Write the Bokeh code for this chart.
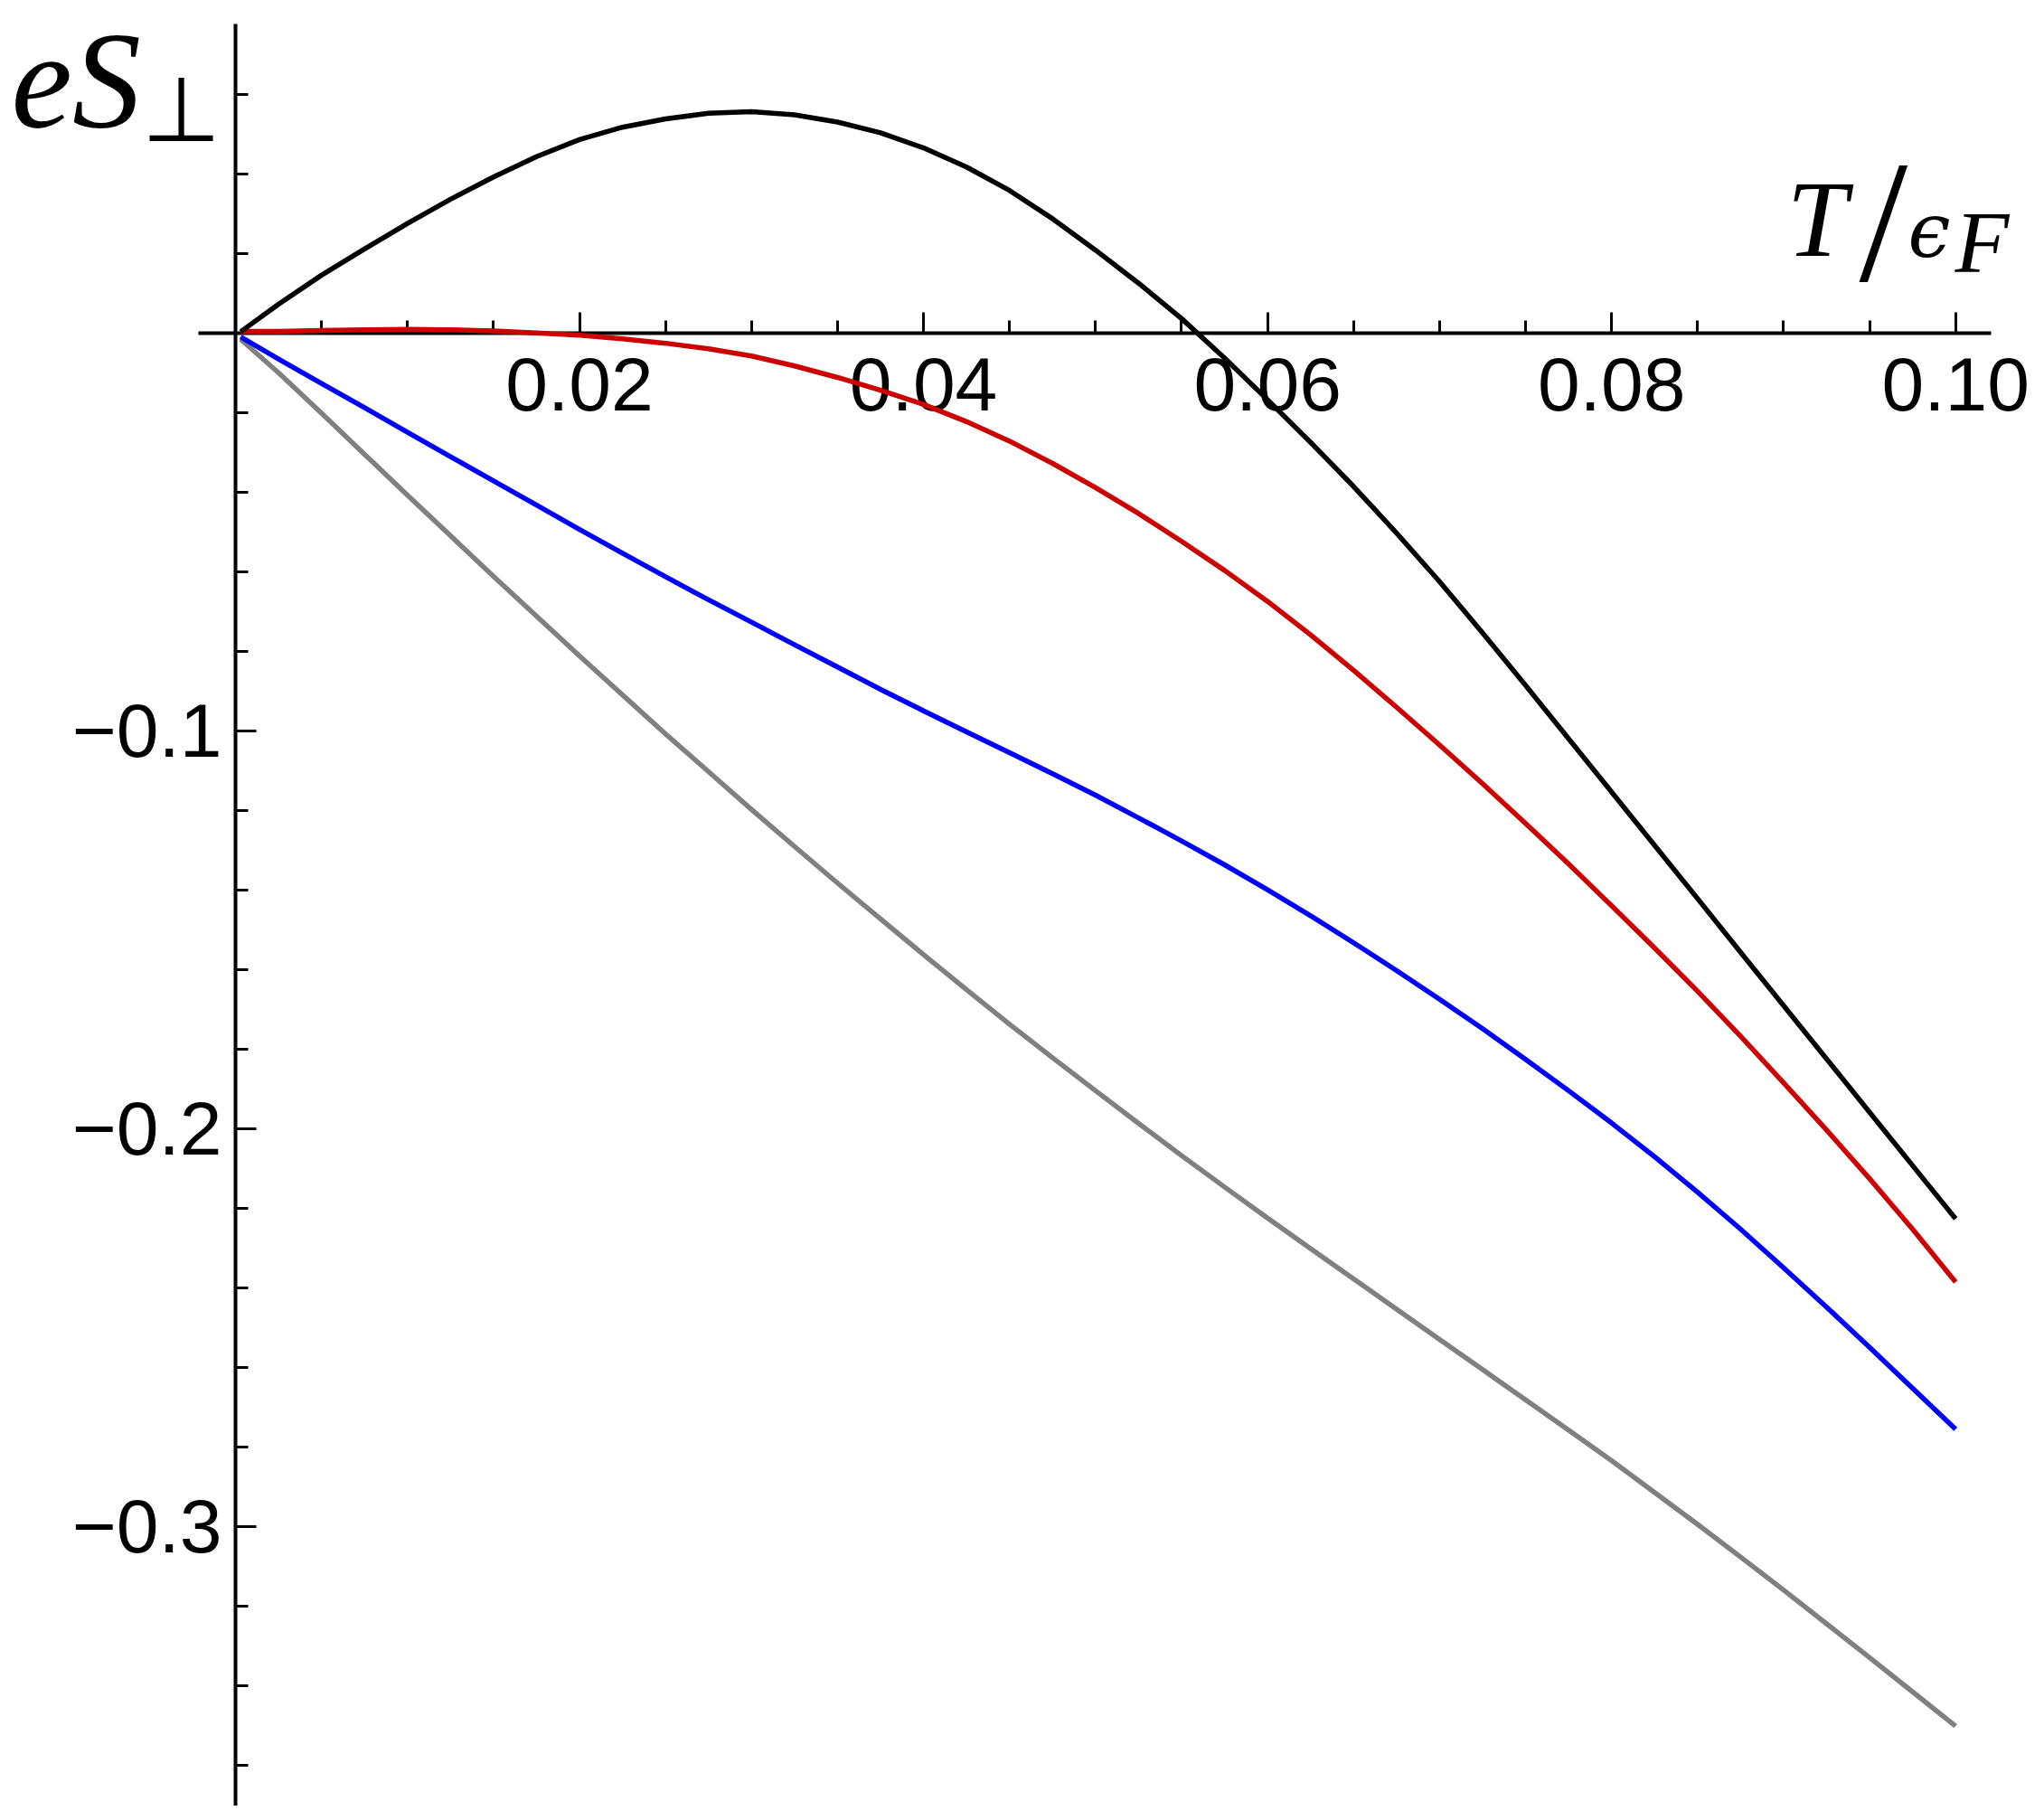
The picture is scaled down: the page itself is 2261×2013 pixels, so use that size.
from bokeh.plotting import figure
from bokeh.models import FixedTicker, CustomJSTickFormatter, Label
from bokeh.embed import file_html
from bokeh.resources import INLINE

# ---------------- data ----------------
T = [0.0003, 0.0025, 0.005, 0.0075, 0.010, 0.0125, 0.015, 0.0175, 0.020, 0.0225,
     0.025, 0.0275, 0.030, 0.0325, 0.035, 0.0375, 0.040, 0.0425, 0.045, 0.0475,
     0.050, 0.0525, 0.055, 0.0575, 0.060, 0.0625, 0.065, 0.0675, 0.070, 0.0725,
     0.075, 0.0775, 0.080, 0.0825, 0.085, 0.0875, 0.090, 0.0925, 0.095, 0.0975, 0.100]
S_black = [0.0003, 0.0072, 0.0145, 0.0211, 0.0275, 0.0336, 0.0392, 0.0443, 0.0486, 0.0517,
           0.0538, 0.0552, 0.0556, 0.0548, 0.0530, 0.0503, 0.0465, 0.0417, 0.0358, 0.0287,
           0.0208, 0.0125, 0.0036, -0.0063, -0.0168, -0.0275, -0.0386, -0.0503, -0.0625, -0.0754,
           -0.0886, -0.1020, -0.1154, -0.1288, -0.1422, -0.1557, -0.1691, -0.1825, -0.1959, -0.2093, -0.2227]
S_red = [0.0004, 0.0004, 0.0006, 0.0008, 0.0009, 0.0008, 0.0005, 0.0000, -0.0006, -0.0015,
         -0.0026, -0.0040, -0.0058, -0.0083, -0.0112, -0.0144, -0.0180, -0.0223, -0.0272, -0.0328,
         -0.0389, -0.0454, -0.0524, -0.0597, -0.0675, -0.0759, -0.0848, -0.0941, -0.1036, -0.1133,
         -0.1233, -0.1335, -0.1440, -0.1546, -0.1655, -0.1768, -0.1885, -0.2004, -0.2126, -0.2253, -0.2386]
S_blue = [-0.0010, -0.0066, -0.0127, -0.0188, -0.0250, -0.0311, -0.0372, -0.0433, -0.0494, -0.0554,
          -0.0613, -0.0671, -0.0727, -0.0784, -0.0840, -0.0896, -0.0950, -0.1003, -0.1055, -0.1108,
          -0.1162, -0.1219, -0.1277, -0.1337, -0.1400, -0.1465, -0.1533, -0.1603, -0.1675, -0.1749,
          -0.1826, -0.1905, -0.1986, -0.2071, -0.2160, -0.2253, -0.2350, -0.2449, -0.2550, -0.2653, -0.2756]
S_gray = [-0.0016, -0.0100, -0.0202, -0.0305, -0.0408, -0.0510, -0.0612, -0.0712, -0.0812, -0.0910,
          -0.1008, -0.1103, -0.1198, -0.1291, -0.1383, -0.1473, -0.1563, -0.1651, -0.1738, -0.1822,
          -0.1905, -0.1987, -0.2068, -0.2147, -0.2225, -0.2302, -0.2378, -0.2454, -0.2530, -0.2606,
          -0.2682, -0.2758, -0.2835, -0.2915, -0.2995, -0.3077, -0.3160, -0.3245, -0.3330, -0.3416, -0.3502]

x_major = [0.02, 0.04, 0.06, 0.08, 0.10]
x_minor = [0.005, 0.010, 0.015, 0.025, 0.030, 0.035, 0.045, 0.050, 0.055,
           0.065, 0.070, 0.075, 0.085, 0.090, 0.095]
y_major = [-0.1, -0.2, -0.3]
y_minor = [0.06, 0.04, 0.02, -0.02, -0.04, -0.06, -0.08, -0.12, -0.14, -0.16, -0.18,
           -0.22, -0.24, -0.26, -0.28, -0.32, -0.34, -0.36]

# ---------------- layout ----------------
W, H = 2245, 1997
OFF = 0                          # measured offset of the canvas on the page
X0, XS = 260.0 - OFF, 19027.0    # canvas px of x=0, px per unit
Y0, YS = 367.7 - OFF, 4400.0     # canvas px of y=0, px per unit

def dx(px):  # page px -> data x
    return (px - OFF - X0) / XS

def dy(py):  # page px -> data y
    return (Y0 - (py - OFF)) / YS

p = figure(width=W, height=H,
           x_range=(-X0 / XS, (W - X0) / XS),
           y_range=(-(H - Y0) / YS, Y0 / YS),
           output_backend="svg", toolbar_location=None, min_border=0)
p.outline_line_color = None
p.background_fill_color = "white"
p.border_fill_color = "white"
p.xgrid.visible = False
p.ygrid.visible = False

for ax in (p.xaxis[0], p.yaxis[0]):
    ax.fixed_location = 0
    ax.axis_line_color = "black"
    ax.axis_line_width = 4
    ax.major_tick_line_color = "black"
    ax.minor_tick_line_color = "black"
    ax.major_tick_line_width = 3
    ax.minor_tick_line_width = 3
    ax.major_tick_in = 23
    ax.major_tick_out = 0
    ax.minor_tick_in = 14
    ax.minor_tick_out = 0
    ax.major_label_text_font = "Liberation Sans"
    ax.major_label_text_font_size = "84px"
    ax.major_label_text_color = "black"
    ax.level = "underlay"

xa = p.xaxis[0]
xa.bounds = (dx(219), dx(2202))
xa.ticker = FixedTicker(ticks=x_major, minor_ticks=x_minor)
xa.formatter = CustomJSTickFormatter(code="return tick.toFixed(2);")
xa.major_label_standoff = 28

ya = p.yaxis[0]
ya.bounds = (dy(2010), dy(26))
ya.ticker = FixedTicker(ticks=y_major, minor_ticks=y_minor)
ya.formatter = CustomJSTickFormatter(
    code="return (tick < 0 ? '\u2212' : '') + Math.abs(tick).toFixed(1);")
ya.major_label_standoff = 15

# ---------------- curves ----------------
lw = 5.5
p.line(T, S_gray, line_color="#808080", line_width=lw, line_join="round")
p.line(T, S_blue, line_color="#0000ff", line_width=lw, line_join="round")
p.line(T, S_red, line_color="#cc0000", line_width=lw, line_join="round")
p.line(T, S_black, line_color="#000000", line_width=lw, line_join="round")

# ---------------- axis labels ----------------
def lab(text, px, base_py, font, size_px, style="normal"):
    # Bokeh draws the alphabetic baseline about 0.335 em below the anchor
    py = base_py - 0.335 * size_px
    p.add_layout(Label(x=dx(px), y=dy(py), text=text, text_font=font,
                       text_font_size=f"{size_px}px", text_font_style=style,
                       text_color="black", text_align="left",
                       text_baseline="alphabetic"))

lab("eS", 12, 140, "Liberation Serif", 152, "italic")
lab("\u22a5", 156, 154, "DejaVu Sans", 100)
lab("T", 1976, 282, "Liberation Serif", 120, "italic")
lab("/", 2056, 309, "Liberation Serif", 193)
lab("\u03f5", 2110, 283, "DejaVu Serif", 84, "italic")
lab("F", 2162, 300, "Liberation Serif", 98, "italic")

open("out.html", "w").write(file_html(p, INLINE))
